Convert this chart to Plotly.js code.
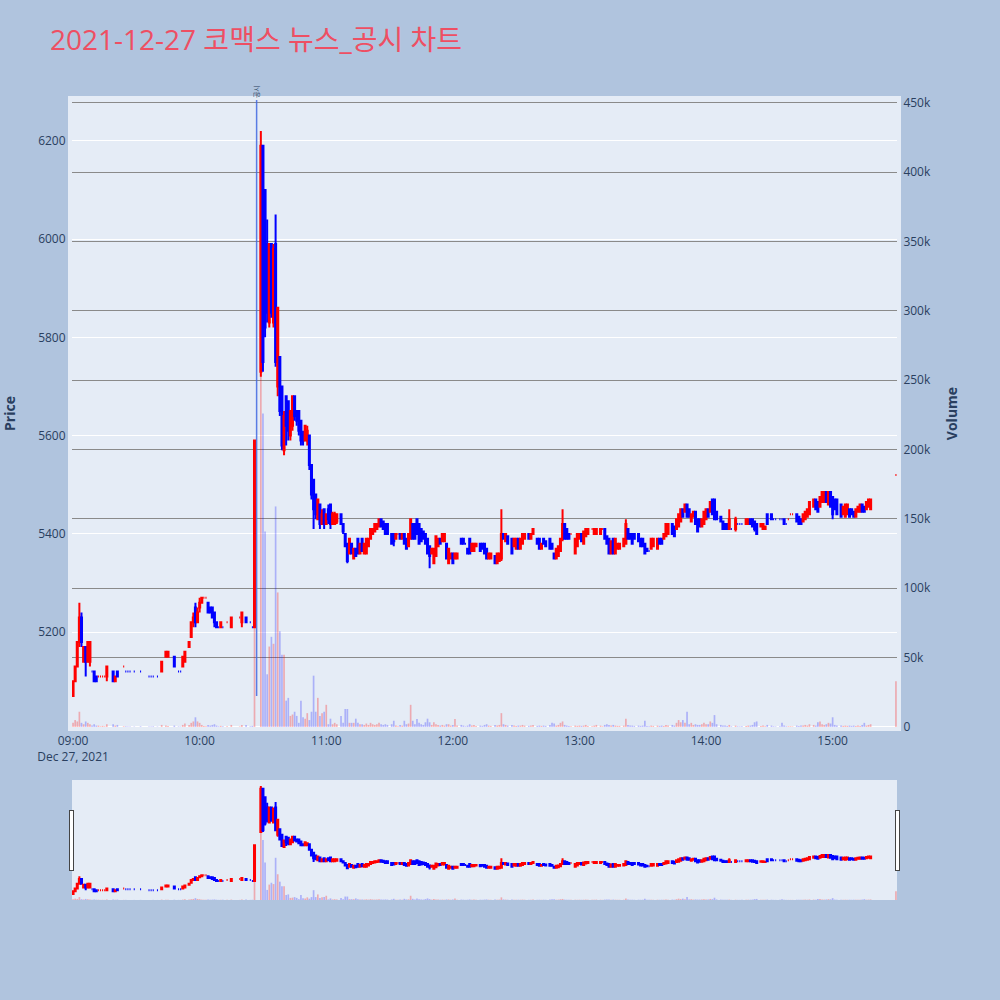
<!DOCTYPE html>
<html>
<head>
<meta charset="utf-8">
<script src="https://cdn.plot.ly/plotly-3.0.1.min.js"></script>
<style>html,body{margin:0;padding:0;background:#B0C4DE;}</style>
</head>
<body>
<div id="chart" style="width:1000px;height:1000px;"></div>
<script>
// minutes after 09:00 on 2021-12-27
const minutes = [
 0,1,2,3,4,5,6,7,8,
 9,10,11,12,13,14,15,16,19,20,
 21,24,25,26,27,29,32,36,37,38,
 40,42,44,45,48,50,51,52,53,55,
 56,57,58,59,60,61,62,63,64,65,
 66,67,68,69,70,71,73,75,79,80,
 82,84,85,86,
 89,90,91,92,93,94,95,96,97,98,
 99,100,101,102,103,104,105,106,107,108,
 109,110,111,112,113,114,115,116,117,118,
 119,120,121,122,123,124,125,127,128,129,
 130,131,132,133,134,135,136,137,138,139,
 140,141,142,143,144,145,146,147,148,149,
 151,152,153,154,155,156,157,158,159,160,
 161,162,163,164,165,166,167,168,169,170,
 171,172,173,174,175,176,177,178,179,180,
 181,182,184,185,186,187,188,189,190,191,
 193,194,195,196,197,198,200,201,202,203,
 204,205,206,208,209,210,211,212,213,214,
 216,217,218,220,221,222,223,224,226,227,
 228,229,230,231,232,233,234,235,236,238,
 239,240,241,242,243,244,246,247,248,250,
 251,252,253,254,255,256,257,258,259,261,
 262,263,264,265,266,268,269,270,271,272,
 273,274,275,277,278,279,280,281,282,284,
 285,286,287,288,289,290,291,292,293,294,
 295,296,297,298,299,300,301,302,303,304,
 305,307,308,309,310,311,312,314,315,316,
 317,319,320,321,322,323,324,326,327,328,
 329,331,332,333,335,336,337,338,339,340,
 341,343,344,345,346,347,348,349,351,352,
 353,354,355,356,357,358,359,360,361,362,
 364,365,366,367,368,369,370,371,372,373,
 374,375,376,377,378,390
];
const opens = [
 5070,5100,5130,5180,5230,5140,5170,5140,5140,
 5120,5120,5110,5110,5110,5110,5110,5110,5120,5100,
 5120,5130,5120,5120,5120,5120,5120,5110,5110,5110,
 5110,5120,5150,5150,5150,5120,5120,5130,5140,5170,
 5190,5220,5250,5220,5250,5260,5270,5270,5260,5250,
 5250,5240,5220,5210,5210,5210,5220,5210,5230,5220,
 5230,5220,5210,5210,
 5730,6190,6100,5990,5830,5990,5830,5990,5700,5760,
 5700,5570,5680,5670,5600,5620,5680,5650,5650,5630,
 5600,5590,5590,5600,5540,5510,5480,5430,5460,5420,
 5450,5420,5450,5460,5420,5420,5425,5440,5420,5400,
 5380,5360,5380,5350,5370,5390,5360,5390,5360,5360,
 5375,5390,5400,5405,5410,5415,5430,5425,5420,5420,
 5400,5400,5390,5400,5400,5390,5400,5390,5375,5390,
 5420,5420,5430,5420,5410,5405,5400,5390,5375,5360,
 5340,5355,5375,5390,5385,5385,5380,5340,5350,5360,
 5350,5350,5390,5390,5380,5370,5390,5365,5365,5375,
 5380,5380,5380,5370,5350,5350,5355,5340,5345,5350,
 5400,5385,5395,5390,5375,5370,5390,5370,5380,5390,
 5400,5390,5400,5390,5390,5370,5390,5385,5390,5380,
 5360,5350,5355,5365,5390,5420,5410,5400,5400,5360,
 5375,5390,5400,5380,5395,5400,5410,5400,5400,5400,
 5410,5410,5395,5390,5360,5390,5360,5370,5370,5375,
 5380,5410,5400,5400,5400,5400,5390,5390,5380,5370,
 5365,5370,5375,5370,5390,5390,5390,5395,5400,5420,
 5415,5410,5415,5425,5450,5445,5460,5450,5425,5435,
 5445,5430,5430,5415,5420,5430,5450,5445,5470,5470,
 5445,5435,5425,5420,5420,5410,5410,5410,5420,5420,
 5420,5420,5420,5430,5430,5425,5420,5415,5410,5410,
 5440,5440,5430,5430,5430,5430,5430,5420,5430,5440,
 5440,5440,5435,5430,5425,5430,5435,5440,5455,5470,
 5465,5455,5465,5465,5485,5460,5485,5475,5470,5470,
 5460,5440,5435,5440,5450,5450,5445,5435,5445,5445,
 5460,5455,5450,5455,5450,5520
];
const highs = [
 5100,5130,5180,5260,5240,5170,5170,5180,5180,
 5120,5120,5110,5110,5110,5110,5110,5130,5120,5110,
 5120,5130,5120,5120,5120,5120,5120,5110,5110,5110,
 5110,5140,5160,5160,5150,5120,5120,5150,5160,5180,
 5220,5240,5260,5250,5270,5270,5270,5270,5260,5250,
 5250,5240,5220,5210,5220,5210,5220,5230,5230,5240,
 5230,5220,5210,5590,
 6220,6190,6100,6040,5990,5990,5990,6050,5860,5760,
 5700,5650,5680,5670,5650,5680,5680,5650,5650,5630,
 5610,5620,5620,5600,5540,5510,5480,5470,5460,5450,
 5450,5440,5460,5460,5445,5445,5440,5440,5420,5400,
 5380,5390,5380,5370,5370,5390,5380,5390,5380,5390,
 5390,5410,5410,5420,5420,5430,5430,5425,5420,5420,
 5400,5400,5400,5400,5400,5400,5400,5390,5400,5430,
 5420,5420,5430,5420,5410,5405,5400,5390,5375,5370,
 5370,5395,5390,5390,5400,5400,5380,5370,5360,5360,
 5360,5360,5390,5390,5380,5370,5390,5380,5380,5380,
 5380,5380,5380,5370,5360,5360,5355,5360,5360,5450,
 5400,5400,5395,5390,5390,5390,5390,5390,5400,5400,
 5400,5400,5410,5390,5390,5380,5390,5385,5390,5380,
 5360,5370,5375,5390,5450,5420,5410,5400,5400,5390,
 5400,5400,5400,5405,5410,5410,5410,5410,5410,5410,
 5410,5410,5395,5390,5385,5390,5390,5380,5380,5390,
 5430,5410,5400,5400,5400,5400,5390,5390,5380,5370,
 5365,5390,5390,5390,5390,5390,5400,5420,5420,5420,
 5415,5430,5440,5450,5450,5460,5460,5450,5440,5445,
 5445,5430,5430,5430,5445,5450,5450,5465,5470,5470,
 5445,5435,5425,5420,5420,5450,5410,5435,5420,5420,
 5420,5430,5430,5430,5430,5425,5420,5420,5420,5415,
 5440,5440,5430,5430,5430,5430,5430,5420,5430,5440,
 5440,5440,5435,5430,5440,5445,5450,5465,5470,5470,
 5465,5475,5485,5485,5485,5485,5485,5475,5470,5470,
 5460,5455,5460,5460,5450,5450,5445,5450,5455,5460,
 5460,5455,5465,5470,5470,5520
];
const lows = [
 5070,5100,5130,5170,5170,5140,5110,5140,5130,
 5120,5100,5100,5110,5110,5110,5110,5100,5100,5100,
 5110,5130,5120,5120,5120,5120,5120,5110,5110,5110,
 5110,5120,5150,5150,5130,5120,5120,5130,5140,5170,
 5190,5210,5210,5220,5240,5260,5270,5270,5240,5240,
 5230,5210,5210,5210,5210,5210,5220,5210,5230,5210,
 5220,5220,5210,5210,
 5720,5730,5800,5830,5820,5840,5820,5740,5680,5640,
 5570,5560,5580,5590,5590,5610,5630,5620,5600,5580,
 5580,5590,5580,5530,5470,5410,5430,5430,5410,5420,
 5410,5420,5420,5410,5420,5420,5420,5420,5400,5375,
 5340,5360,5360,5350,5355,5360,5360,5365,5360,5360,
 5375,5390,5400,5405,5410,5415,5415,5410,5400,5400,
 5380,5375,5390,5400,5390,5390,5380,5370,5375,5390,
 5390,5390,5400,5380,5385,5390,5380,5360,5330,5360,
 5340,5355,5375,5380,5385,5385,5350,5340,5350,5340,
 5350,5350,5380,5380,5380,5360,5360,5365,5365,5375,
 5365,5370,5360,5350,5350,5350,5340,5340,5345,5345,
 5390,5385,5380,5360,5375,5370,5370,5370,5380,5390,
 5390,5390,5400,5380,5370,5370,5380,5375,5370,5370,
 5350,5350,5355,5365,5385,5390,5390,5390,5400,5360,
 5375,5390,5385,5380,5395,5400,5410,5400,5400,5400,
 5410,5390,5380,5360,5360,5360,5360,5370,5370,5375,
 5380,5390,5390,5380,5390,5385,5375,5375,5360,5365,
 5365,5370,5375,5370,5380,5380,5390,5395,5400,5400,
 5395,5410,5415,5425,5435,5445,5435,5435,5425,5435,
 5420,5405,5415,5415,5420,5430,5435,5445,5440,5430,
 5430,5425,5410,5410,5410,5410,5410,5405,5420,5420,
 5420,5420,5420,5420,5415,5405,5400,5415,5410,5410,
 5420,5430,5430,5430,5430,5430,5420,5420,5430,5440,
 5440,5425,5420,5420,5425,5430,5435,5440,5455,5450,
 5445,5455,5465,5465,5465,5460,5455,5430,5450,5440,
 5435,5440,5435,5440,5435,5440,5435,5435,5445,5445,
 5445,5445,5450,5455,5450,5520
];
const closes = [
 5100,5130,5180,5230,5180,5170,5140,5180,5180,
 5120,5100,5100,5110,5110,5110,5110,5130,5100,5110,
 5110,5130,5120,5120,5120,5120,5120,5110,5110,5110,
 5110,5140,5160,5160,5130,5120,5120,5150,5160,5180,
 5220,5230,5220,5240,5260,5270,5270,5270,5240,5240,
 5230,5220,5210,5210,5220,5210,5220,5230,5230,5240,
 5220,5220,5210,5590,
 6190,5750,5820,5850,5990,5850,5980,5750,5860,5650,
 5580,5640,5620,5610,5650,5680,5640,5630,5610,5590,
 5590,5620,5610,5540,5480,5450,5440,5470,5420,5440,
 5420,5440,5430,5420,5440,5440,5440,5420,5405,5375,
 5345,5390,5360,5370,5355,5360,5380,5365,5380,5390,
 5390,5410,5410,5420,5420,5430,5415,5410,5400,5400,
 5380,5385,5400,5400,5390,5400,5380,5370,5400,5430,
 5390,5390,5400,5380,5385,5390,5380,5360,5355,5370,
 5370,5395,5390,5380,5400,5400,5350,5370,5360,5340,
 5360,5360,5380,5380,5380,5360,5360,5380,5380,5380,
 5365,5370,5360,5350,5360,5360,5340,5360,5360,5400,
 5390,5400,5380,5360,5390,5390,5370,5390,5400,5400,
 5390,5400,5410,5380,5370,5380,5380,5375,5370,5370,
 5350,5370,5375,5390,5420,5390,5390,5390,5400,5390,
 5400,5400,5385,5405,5410,5410,5410,5410,5410,5410,
 5410,5390,5380,5360,5385,5360,5390,5380,5380,5390,
 5420,5390,5390,5380,5390,5385,5375,5375,5360,5365,
 5365,5390,5390,5390,5380,5380,5400,5420,5420,5400,
 5395,5430,5440,5450,5435,5460,5435,5435,5440,5445,
 5420,5405,5415,5430,5445,5450,5435,5465,5440,5430,
 5430,5425,5410,5410,5410,5430,5410,5430,5420,5420,
 5420,5430,5430,5420,5415,5410,5400,5420,5420,5415,
 5420,5430,5430,5430,5430,5430,5420,5420,5430,5440,
 5440,5425,5420,5420,5440,5445,5450,5465,5470,5450,
 5445,5475,5485,5485,5465,5485,5455,5440,5450,5440,
 5435,5455,5460,5460,5435,5440,5435,5450,5455,5460,
 5445,5445,5465,5470,5470,5520
];
const volumes = [
 3000,5000,4000,11000,3000,2000,4000,3000,2000,
 1000,2000,1000,1000,500,800,500,2000,2000,1000,
 1500,500,500,300,400,300,500,400,300,500,
 300,1500,1000,800,1000,400,300,1500,2500,1500,
 3000,4000,7000,4000,3000,1500,800,500,1500,1000,
 1500,2000,1000,500,800,500,500,1500,400,1500,
 1500,500,800,150000,
 384000,226000,141000,38000,58000,65000,60000,159000,97000,69000,
 52000,52000,19000,21000,8000,9000,11000,8000,3000,19000,
 7000,6000,10000,5000,11000,37000,11000,21000,8000,10000,
 11000,16000,2000,6000,2000,3000,2000,8000,3000,13000,
 13000,3000,3000,3000,6000,3000,2000,2000,1500,2500,
 1500,3000,2000,1500,2000,3000,2000,1500,2000,1500,
 2000,4500,1000,500,1500,1000,4500,2000,2500,16000,
 4500,2000,5700,3000,2000,1500,3400,6000,3400,1500,
 3400,2000,1500,1000,1500,1000,2000,2000,1000,1500,
 5700,1000,1500,1000,500,1000,2000,1000,1500,800,
 1000,800,1500,2000,1000,800,1500,1000,1500,10000,
 2000,1500,1000,1500,1000,800,1000,1000,1500,1000,
 800,1000,1500,800,1000,800,1000,800,1500,3000,
 2500,1000,1500,3000,4000,1500,1000,800,500,1000,
 800,1000,800,1000,1500,800,500,1000,1500,1000,
 500,1500,2000,1500,1000,1500,1000,800,800,1000,
 6000,1500,1000,1000,800,1000,800,1000,4500,800,
 500,1000,800,1000,800,1000,800,1500,1000,1500,
 1000,3000,5000,3400,5000,3000,11000,2000,3000,1500,
 2000,1500,1500,2000,3000,2000,2000,4000,3000,8600,
 2000,1500,1000,1000,800,1500,500,1000,500,400,
 500,800,1000,1000,1500,3400,4000,800,1000,500,
 1500,1000,500,400,500,3000,1000,500,500,500,
 400,1000,800,1000,1000,1500,1000,2000,1500,1000,
 3400,4000,2000,1500,2000,3000,2500,7000,1500,1000,
 1000,800,1000,800,1000,800,1000,800,1000,800,
 1500,3000,1000,1500,2000,33000
];
const tradeDate = '2021-12-27';
const newsMinute = 87;          // 10:27 공시
const newsLabel = '공시';
const titleText = '2021-12-27 코맥스 뉴스_공시 차트';

function toTime(m) {
  const h = 9 + Math.floor(m / 60), mm = m % 60;
  return tradeDate + ' ' + String(h).padStart(2, '0') + ':' + String(mm).padStart(2, '0');
}
const times = minutes.map(toTime);

// volume colour follows the candle direction (same rule as plotly's candlestick)
let inc = true, prevC = null;
const volColors = closes.map((c, i) => {
  const o = opens[i];
  if (c === o) { if (prevC !== null && c !== prevC) inc = c > prevC; }
  else inc = c > o;
  prevC = c;
  return inc ? 'rgba(255,0,0,0.28)' : 'rgba(0,0,255,0.25)';
});

const lowMin = Math.min(...lows);
const bgLine = { showline: true, linecolor: '#E5ECF6', linewidth: 4, mirror: true };

const traces = [
  {
    type: 'bar', x: times, y: volumes, yaxis: 'y', name: 'Volume',
    marker: { color: volColors, line: { width: 0 } },
    hoverinfo: 'x+y'
  },
  {
    type: 'candlestick', x: times, open: opens, high: highs, low: lows, close: closes,
    yaxis: 'y2', name: 'Price',
    increasing: { line: { color: 'red' }, fillcolor: 'red' },
    decreasing: { line: { color: 'blue' }, fillcolor: 'blue' }
  }
];

const layout = {
  width: 1000, height: 1000,
  paper_bgcolor: '#B0C4DE', plot_bgcolor: '#E5ECF6',
  font: { family: '"Open Sans", "Noto Sans CJK KR", verdana, arial, sans-serif', size: 12, color: '#2a3f5f' },
  title: { text: titleText, x: 0.05, xanchor: 'left', y: 0.96, yanchor: 'middle',
           font: { size: 28, color: '#EE4F63', family: '"Open Sans", "Noto Sans CJK KR", sans-serif' } },
  margin: { l: 72, r: 103, t: 100, b: 100 },
  showlegend: false,
  bargap: 0.2,
  xaxis: Object.assign({
    type: 'date',
    range: [tradeDate + ' 08:59:30', tradeDate + ' 15:30:30'],
    showgrid: false, zeroline: false,
    rangeslider: { visible: true, thickness: 0.15, bgcolor: '#E5ECF6', borderwidth: 0 }
  }, bgLine),
  yaxis: Object.assign({
    side: 'right', range: [0, 452000],
    gridcolor: '#8a8a8a', gridwidth: 1,
    zeroline: true, zerolinecolor: 'white', zerolinewidth: 2,
    title: { text: '<b>Volume</b>', standoff: 18 }
  }, bgLine),
  yaxis2: Object.assign({
    overlaying: 'y', side: 'left', range: [5007, 6283],
    gridcolor: 'white', gridwidth: 1, zeroline: false,
    title: { text: '<b>Price</b>', standoff: 22 }
  }, bgLine),
  shapes: [{
    type: 'line', xref: 'x', yref: 'y2',
    x0: toTime(newsMinute), x1: toTime(newsMinute), y0: lowMin, y1: 6290,
    line: { color: 'royalblue', width: 1.5 }, opacity: 0.85
  }],
  annotations: [{
    x: toTime(newsMinute), xref: 'x', y: 1, yref: 'paper', yanchor: 'bottom', xanchor: 'center',
    text: newsLabel, textangle: -90, showarrow: false, font: { size: 7, color: '#2a3f5f' }
  }]
};

Plotly.newPlot('chart', traces, layout, { displayModeBar: false });
</script>
</body>
</html>
